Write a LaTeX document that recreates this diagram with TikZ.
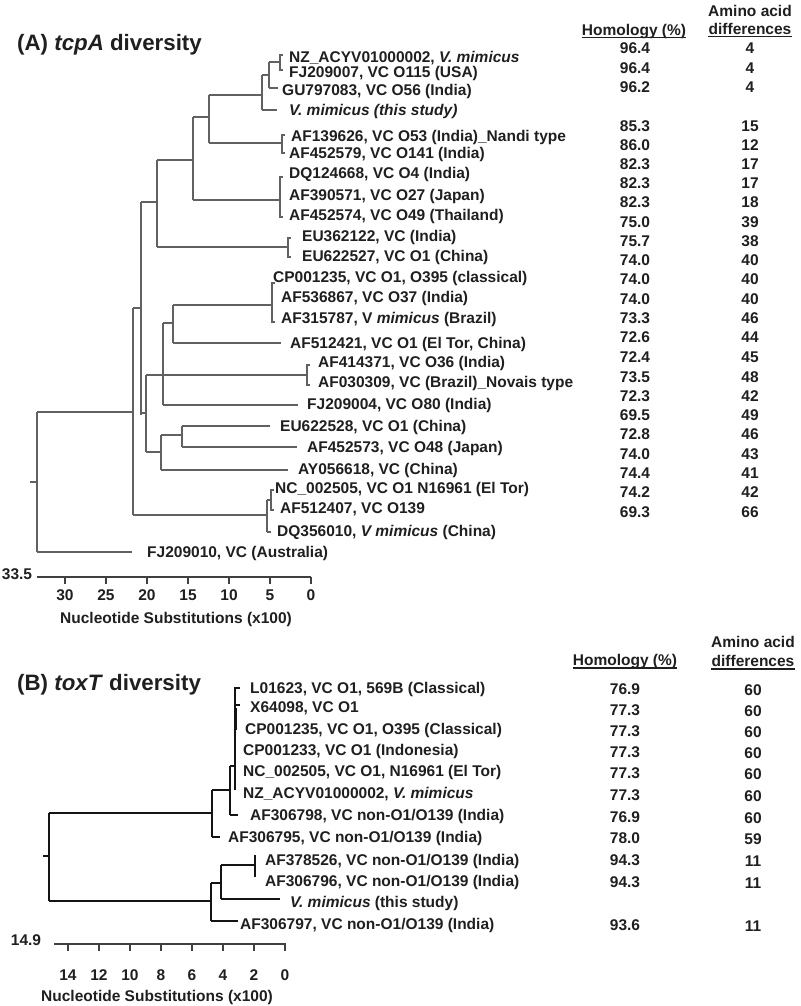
\documentclass[tikz,border=0pt]{standalone}
\usepackage{fontspec}
\setmainfont{Liberation Sans}
\newcommand\fsz{\fontsize{15.5}{18}\selectfont}
\tikzset{
  br/.style={line width=1.6pt, draw=black!62},
  brb/.style={line width=1.8pt, draw=black!92},
  lbl/.style={anchor=west, inner sep=0pt, text height=11.1pt, text depth=0pt, font=\fsz\bfseries, text=black!88},
  val/.style={anchor=center, inner sep=0pt, text height=11.1pt, text depth=0pt, font=\fsz\bfseries, text=black!88},
  ttl/.style={anchor=west, inner sep=0pt, text height=16pt, text depth=0pt, font=\fontsize{22.3}{26}\selectfont\bfseries, text=black!88},
  uline/.style={line width=1.5pt, draw=black!88},
  tick/.style={line width=1.6pt, draw=black!75},
}
\begin{document}
\begin{tikzpicture}[x=1pt,y=-1pt]
\path[use as bounding box, fill=white] (0,0) rectangle (800,1006);

% ================= (A) =================
\node[ttl] (tA) at (17,43) {(A) \textit{tcpA} diversity};
\node[val] (hA) at (634,30) {Homology (\%)};
\node[val] (aA1) at (750,11) {Amino acid};
\node[val] (aA2) at (750,29) {differences};
\draw[uline] ([yshift=-2pt]hA.south west) -- ([yshift=-2pt]hA.south east);
\draw[uline] ([yshift=-2pt]aA2.south west) -- ([yshift=-2pt]aA2.south east);

% branches A
\draw[br] (30,482) -- (37,482);
\draw[br] (37,412) -- (37,552);
\draw[br] (37,412) -- (133,412);
\draw[br] (37,552) -- (132,552);
\draw[br] (133,308) -- (133,515);
\draw[br] (133,308) -- (141,308);
\draw[br] (133,515) -- (267,515);
\draw[br] (141,202) -- (141,415);
\draw[br] (141,202) -- (157,202);
\draw[br] (141,413) -- (146,413);
\draw[br] (157,160) -- (157,247);
\draw[br] (157,160) -- (193,160);
\draw[br] (157,247) -- (288,247);
\draw[br] (291,238) -- (288,238) -- (288,257) -- (291,257);
\draw[br] (193,117) -- (193,200);
\draw[br] (193,117) -- (209,117);
\draw[br] (193,200) -- (280,200);
\draw[br] (283,177) -- (280,177) -- (280,217) -- (283,217);
\draw[br] (209,95) -- (209,143);
\draw[br] (209,95) -- (262,95);
\draw[br] (209,143) -- (282,143);
\draw[br] (285,135) -- (282,135) -- (282,153) -- (285,153);
\draw[br] (262,75) -- (262,110);
\draw[br] (262,75) -- (269,75);
\draw[br] (262,110) -- (277,110);
\draw[br] (269,62) -- (269,88);
\draw[br] (269,62) -- (280,62);
\draw[br] (269,88) -- (278,88);
\draw[br] (283,55) -- (280,55) -- (280,70) -- (283,70);
\draw[br] (146,375) -- (146,452);
\draw[br] (146,375) -- (307,375);
\draw[br] (146,452) -- (161,452);
\draw[br] (310,365) -- (307,365) -- (307,385) -- (310,385);
\draw[br] (163,323) -- (163,405);
\draw[br] (163,323) -- (173,323);
\draw[br] (163,405) -- (298,405);
\draw[br] (173,305) -- (173,343);
\draw[br] (173,305) -- (272,305);
\draw[br] (173,343) -- (281,343);
\draw[br] (275,283) -- (272,283) -- (272,322) -- (275,322);
\draw[br] (161,435) -- (161,470);
\draw[br] (161,435) -- (182,435);
\draw[br] (161,470) -- (288,470);
\draw[br] (182,426) -- (182,447);
\draw[br] (182,426) -- (270,426);
\draw[br] (182,447) -- (297,447);
\draw[br] (267,500) -- (267,532);
\draw[br] (267,500) -- (271,500);
\draw[br] (267,532) -- (271,532);
\draw[br] (274,490) -- (271,490) -- (271,510) -- (274,510);

% labels A
\node[lbl] (a1) at (289,57) {NZ\_ACYV01000002, \textit{V. mimicus}};
\node[lbl] (a2) at (289,72) {FJ209007, VC O115 (USA)};
\node[lbl] (a3) at (282,90) {GU797083, VC O56 (India)};
\node[lbl] (a4) at (289,110) {\textit{V. mimicus (this study)}};
\node[lbl] (a5) at (291,136) {AF139626, VC O53 (India)\_Nandi type};
\node[lbl] (a6) at (289,153) {AF452579, VC O141 (India)};
\node[lbl] (a7) at (289,173) {DQ124668, VC O4 (India)};
\node[lbl] (a8) at (289,195) {AF390571, VC O27 (Japan)};
\node[lbl] (a9) at (289,215) {AF452574, VC O49 (Thailand)};
\node[lbl] (a10) at (302,236) {EU362122, VC (India)};
\node[lbl] (a11) at (302,256) {EU622527, VC O1 (China)};
\node[lbl] (a12) at (273,277) {CP001235, VC O1, O395 (classical)};
\node[lbl] (a13) at (281,297) {AF536867, VC O37 (India)};
\node[lbl] (a14) at (281,318) {AF315787, V \textit{mimicus} (Brazil)};
\node[lbl] (a15) at (290,343) {AF512421, VC O1 (El Tor, China)};
\node[lbl] (a16) at (318,362) {AF414371, VC O36 (India)};
\node[lbl] (a17) at (318,382) {AF030309, VC (Brazil)\_Novais type};
\node[lbl] (a18) at (307,404) {FJ209004, VC O80 (India)};
\node[lbl] (a19) at (280,426) {EU622528, VC O1 (China)};
\node[lbl] (a20) at (307,447) {AF452573, VC O48 (Japan)};
\node[lbl] (a21) at (298,469) {AY056618, VC (China)};
\node[lbl] (a22) at (275,488) {NC\_002505, VC O1 N16961 (El Tor)};
\node[lbl] (a23) at (280,508) {AF512407, VC O139};
\node[lbl] (a24) at (277,531) {DQ356010, \textit{V mimicus} (China)};
\node[lbl] (a25) at (147,552) {FJ209010, VC (Australia)};

% values A
\foreach \h/\a/\y [count=\i] in {96.4/4/48,96.4/4/68,96.2/4/87,85.3/15/126,86.0/12/145,82.3/17/164,82.3/17/183,82.3/18/202,75.0/39/222,75.7/38/241,74.0/40/260,74.0/40/279,74.0/40/299,73.3/46/318,72.6/44/337,72.4/45/357,73.5/48/377,72.3/42/396,69.5/49/415,72.8/46/434,74.0/43/454,74.4/41/473,74.2/42/492,69.3/66/512}{
  \node[val] (hAv\i) at (635,\y) {\h};
  \node[val] (aAv\i) at (750,\y) {\a};
}

% scale A
\draw[tick] (37,577) -- (311,577);
\foreach \k in {0,5,...,30}{
  \draw[tick] ({311-8.2*\k},577) -- ({311-8.2*\k},584);
  \node[val] (sA\k) at ({311-8.2*\k},595) {\k};
}
\node[val] (sA335) at (17,574) {33.5};
\node[val] (xA) at (176,618) {Nucleotide Substitutions (x100)};

% ================= (B) =================
\node[ttl] (tB) at (17,682) {(B) \textit{toxT} diversity};
\node[val] (hB) at (625,660) {Homology (\%)};
\node[val] (aB1) at (753,642) {Amino acid};
\node[val] (aB2) at (753,661) {differences};
\draw[uline] ([yshift=-2pt]hB.south west) -- ([yshift=-2pt]hB.south east);
\draw[uline] ([yshift=-2pt]aB2.south west) -- ([yshift=-2pt]aB2.south east);

% branches B
\draw[brb] (43,856) -- (49,856);
\draw[brb] (49,813) -- (49,901);
\draw[brb] (49,813) -- (212,813);
\draw[brb] (49,901) -- (211,901);
\draw[brb] (212,790) -- (212,837);
\draw[brb] (212,790) -- (230,790);
\draw[brb] (212,837) -- (220,837);
\draw[brb] (230,766) -- (230,815);
\draw[brb] (230,766) -- (235,766);
\draw[brb] (230,815) -- (238,815);
\draw[brb] (240,688) -- (235,688) -- (235,790);
\draw[brb] (235,705) -- (240,705);
\draw[brb, line width=2.6pt] (236,708) -- (236,730);
\draw[brb] (211,883) -- (211,921);
\draw[brb] (211,883) -- (221,883);
\draw[brb] (211,921) -- (238,921);
\draw[brb] (221,865) -- (221,899);
\draw[brb] (221,865) -- (255,865);
\draw[brb] (221,899) -- (280,899);
\draw[brb] (255,855) -- (255,877);

% labels B
\node[lbl] (b1) at (250,688) {L01623, VC O1, 569B (Classical)};
\node[lbl] (b2) at (250,707) {X64098, VC O1};
\node[lbl] (b3) at (245,729) {CP001235, VC O1, O395 (Classical)};
\node[lbl] (b4) at (243,750) {CP001233, VC O1 (Indonesia)};
\node[lbl] (b5) at (243,771) {NC\_002505, VC O1, N16961 (El Tor)};
\node[lbl] (b6) at (243,793) {NZ\_ACYV01000002, \textit{V. mimicus}};
\node[lbl] (b7) at (250,815) {AF306798, VC non-O1/O139 (India)};
\node[lbl] (b8) at (228,837) {AF306795, VC non-O1/O139 (India)};
\node[lbl] (b9) at (265,860) {AF378526, VC non-O1/O139 (India)};
\node[lbl] (b10) at (265,881) {AF306796, VC non-O1/O139 (India)};
\node[lbl] (b11) at (290,902) {\textit{V. mimicus} (this study)};
\node[lbl] (b12) at (240,924) {AF306797, VC non-O1/O139 (India)};

% values B
\foreach \h/\a/\y [count=\i] in {76.9/60/689,77.3/60/710,77.3/60/731,77.3/60/752,77.3/60/773,77.3/60/795,76.9/60/817,78.0/59/838,94.3/11/860,94.3/11/882,93.6/11/925}{
  \node[val] (hBv\i) at (625,\y) {\h};
  \node[val] (aBv\i) at (753,\y+1) {\a};
}

% scale B
\draw[tick] (54,944) -- (286,944);
\foreach \k in {0,2,...,14}{
  \draw[tick] ({285-15.5*\k},944) -- ({285-15.5*\k},951);
  \node[val] (sB\k) at ({285-15.5*\k},975) {\k};
}
\node[val] (sB149) at (26,940) {14.9};
\node[val] (xB) at (157,996) {Nucleotide Substitutions (x100)};
\end{tikzpicture}
\end{document}
